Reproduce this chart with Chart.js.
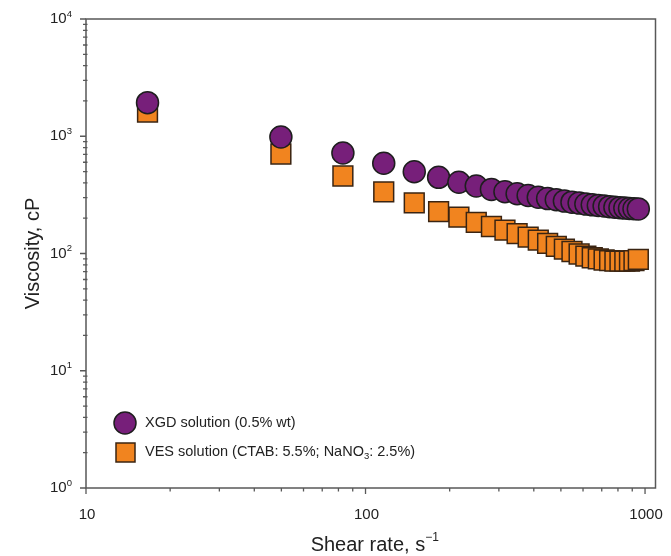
<!DOCTYPE html>
<html>
<head>
<meta charset="utf-8">
<script src="https://cdn.jsdelivr.net/npm/chart.js@4.4.0/dist/chart.umd.min.js"></script>
<style>
  html, body { margin: 0; padding: 0; background: #fff; }
  #wrap { width: 671px; height: 556px; position: relative; }
</style>
</head>
<body>
<div id="wrap"><canvas id="chart"></canvas></div>
<script>
// Shear rate points (s^-1), same for both fluids
const shearRates = [16.6, 49.8, 83, 116.2, 149.4, 182.6, 215.8, 249, 282.2, 315.4, 348.6, 381.8,
  415, 448.2, 481.4, 514.6, 547.8, 581, 614.2, 647.4, 680.6, 713.8, 747, 780.2, 813.4, 846.6,
  879.8, 913, 946.2];

// Viscosity, cP
const xgdViscosity = [1935, 985, 720, 588, 498, 446, 405, 376, 352, 336, 323, 312, 302, 294, 287,
  280, 274, 269, 264, 260, 257, 254, 251, 248, 246, 244, 242, 241, 240];
const vesViscosity = [1610, 706, 458, 335, 270, 228, 204, 184, 170, 158, 148, 138, 130, 122, 115,
  109, 104, 99, 95, 92, 90, 88, 87, 86, 86, 86, 86, 87, 89];

const xTickValues = [10, 100, 1000];
const xTickLabels = ['10', '100', '1000'];
const yTickValues = [1, 10, 100, 1000, 10000];
const yTickExponents = ['0', '1', '2', '3', '4'];

const FONT = "'Liberation Sans', Arial, sans-serif";
const PURPLE = '#771f7a';
const ORANGE = '#f1841f';

// draws a run of [text, size, yShift] pieces starting at x
function drawPieces(ctx, pieces, x, y) {
  for (const [txt, size, dy] of pieces) {
    ctx.font = `${size}px ${FONT}`;
    ctx.fillText(txt, x, y + dy);
    x += ctx.measureText(txt).width;
  }
  return x;
}

function piecesWidth(ctx, pieces) {
  let w = 0;
  for (const [txt, size] of pieces) {
    ctx.font = `${size}px ${FONT}`;
    w += ctx.measureText(txt).width;
  }
  return w;
}

const axisPlugin = {
  id: 'axisFrame',
  afterDraw(chart) {
    const { ctx, chartArea: a, scales: { x, y } } = chart;
    ctx.save();

    // frame
    ctx.strokeStyle = '#585858';
    ctx.lineWidth = 1.5;
    ctx.strokeRect(a.left, a.top, a.right - a.left, a.bottom - a.top);

    // tick marks
    ctx.lineWidth = 1.3;
    ctx.beginPath();
    for (const d of [10, 100]) {
      for (let m = 2; m <= 9; m++) {
        const px = x.getPixelForValue(d * m);
        ctx.moveTo(px, a.bottom);
        ctx.lineTo(px, a.bottom + 3.5);
      }
    }
    xTickValues.forEach(v => {
      const px = x.getPixelForValue(v);
      ctx.moveTo(px, a.bottom);
      ctx.lineTo(px, a.bottom + 6);
    });
    for (const d of [1, 10, 100, 1000]) {
      for (let m = 2; m <= 9; m++) {
        const py = y.getPixelForValue(d * m);
        ctx.moveTo(a.left - 3, py);
        ctx.lineTo(a.left + 1.5, py);
      }
    }
    yTickValues.forEach(v => {
      const py = y.getPixelForValue(v);
      ctx.moveTo(a.left - 6, py);
      ctx.lineTo(a.left, py);
    });
    ctx.stroke();

    ctx.fillStyle = '#222';
    ctx.textBaseline = 'middle';

    // x tick labels
    ctx.textAlign = 'center';
    ctx.font = `15px ${FONT}`;
    xTickValues.forEach((v, i) => {
      ctx.fillText(xTickLabels[i], x.getPixelForValue(v) + 1, a.bottom + 27);
    });

    // y tick labels: 10 with superscript exponent
    ctx.textAlign = 'left';
    yTickValues.forEach((v, i) => {
      const py = y.getPixelForValue(v);
      const pieces = [['10', 15, 0], [yTickExponents[i], 9.5, -5]];
      const w = piecesWidth(ctx, pieces);
      drawPieces(ctx, pieces, a.left - 14 - w, py);
    });

    // x title
    const xt = [['Shear rate, s', 20, 0], ['\u22121', 12, -7]];
    const xw = piecesWidth(ctx, xt);
    drawPieces(ctx, xt, (a.left + a.right) / 2 - xw / 2 + 4, 545);

    // y title
    ctx.save();
    ctx.translate(33, (a.top + a.bottom) / 2);
    ctx.rotate(-Math.PI / 2);
    ctx.textAlign = 'center';
    ctx.font = `20px ${FONT}`;
    ctx.fillText('Viscosity, cP', 0, 0);
    ctx.restore();

    // legend
    ctx.lineWidth = 1.5;
    ctx.strokeStyle = '#1e1e1e';
    ctx.fillStyle = PURPLE;
    ctx.beginPath();
    ctx.arc(125, 423, 11, 0, Math.PI * 2);
    ctx.fill();
    ctx.stroke();
    ctx.fillStyle = ORANGE;
    ctx.strokeStyle = '#3a2412';
    ctx.fillRect(116, 443, 19, 19);
    ctx.strokeRect(116, 443, 19, 19);

    ctx.fillStyle = '#222';
    ctx.textAlign = 'left';
    drawPieces(ctx, [['XGD solution (0.5% wt)', 14.5, 0]], 145, 423);
    drawPieces(ctx, [
      ['VES solution (CTAB: 5.5%; NaNO', 14.5, 0],
      ['3', 9.5, 4],
      [': 2.5%)', 14.5, 0],
    ], 145, 452);

    ctx.restore();
  }
};

new Chart(document.getElementById('chart'), {
  type: 'scatter',
  data: {
    datasets: [
      {
        label: 'XGD solution (0.5% wt)',
        data: shearRates.map((s, i) => ({ x: s, y: xgdViscosity[i] })),
        pointStyle: 'circle',
        pointRadius: 11,
        backgroundColor: PURPLE,
        borderColor: '#1e1e1e',
        borderWidth: 1.5,
        clip: false,
      },
      {
        label: 'VES solution (CTAB: 5.5%; NaNO3: 2.5%)',
        data: shearRates.map((s, i) => ({ x: s, y: vesViscosity[i] })),
        pointStyle: 'rect',
        pointRadius: 14,
        backgroundColor: ORANGE,
        borderColor: '#3a2412',
        borderWidth: 1.5,
        clip: false,
      },
    ],
  },
  options: {
    responsive: true,
    maintainAspectRatio: false,
    animation: false,
    layout: { padding: { left: 86, right: 4, top: 19, bottom: 68 } },
    plugins: {
      legend: { display: false },
      tooltip: { enabled: false },
    },
    scales: {
      x: { type: 'logarithmic', min: 10, max: 1090, display: false },
      y: { type: 'logarithmic', min: 1, max: 10000, display: false },
    },
  },
  plugins: [axisPlugin],
});
</script>
</body>
</html>
